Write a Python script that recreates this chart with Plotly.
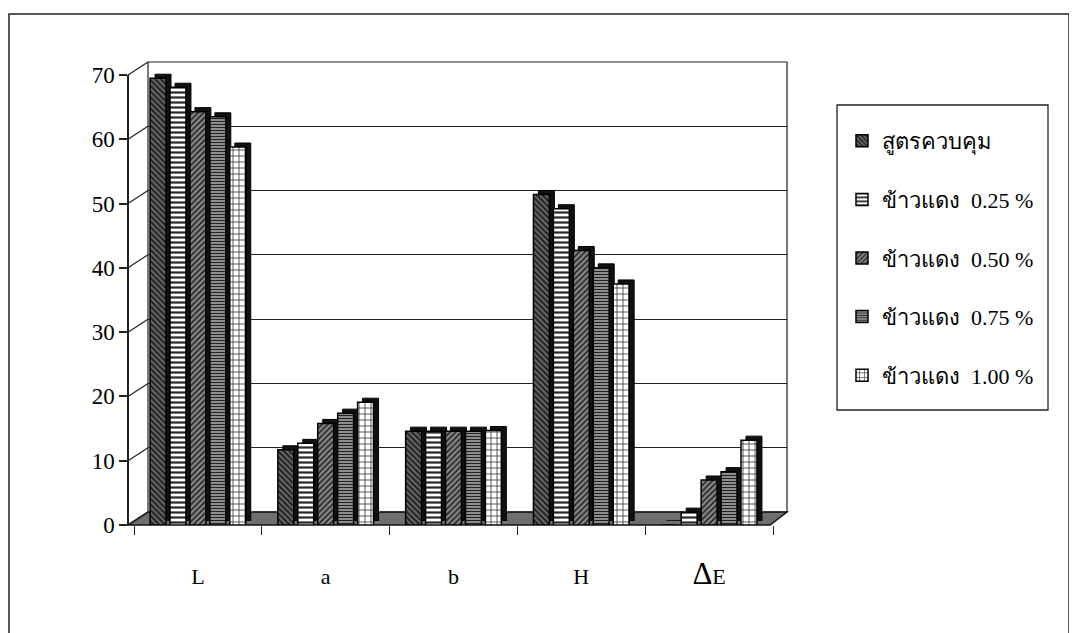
import plotly.graph_objects as go

categories = ["L", "a", "b", "H", "ΔE"]
category_labels = ["L", "a", "b", "H", "<span style='font-size:31px'>Δ</span>E"]
series_names = ["สูตรควบคุม", "ข้าวแดง\u00a0\u00a00.25 %", "ข้าวแดง\u00a0\u00a00.50 %",
                "ข้าวแดง\u00a0\u00a00.75 %", "ข้าวแดง\u00a0\u00a01.00 %"]
control = [69.5, 11.7, 14.6, 51.4, 0.0]
red_025 = [68.1, 12.7, 14.6, 49.2, 2.0]
red_050 = [64.3, 15.8, 14.6, 42.7, 7.0]
red_075 = [63.5, 17.4, 14.6, 40.0, 8.3]
red_100 = [58.8, 19.1, 14.7, 37.5, 13.2]
y_ticks = [0, 10, 20, 30, 40, 50, 60, 70]

series_values = [control, red_025, red_050, red_075, red_100]
patterns = [
    dict(shape="\\", bgcolor="#666666", fgcolor="#1a1a1a", size=4, solidity=0.45, fillmode="replace"),
    dict(shape="-", bgcolor="#ffffff", fgcolor="#2a2a2a", size=5, solidity=0.45, fillmode="replace"),
    dict(shape="/", bgcolor="#888888", fgcolor="#222222", size=4, solidity=0.4, fillmode="replace"),
    dict(shape="-", bgcolor="#b0b0b0", fgcolor="#222222", size=3, solidity=0.5, fillmode="replace"),
    dict(shape="+", bgcolor="#ffffff", fgcolor="#333333", size=6, solidity=0.25, fillmode="replace"),
]

FONT = "Liberation Serif, Times New Roman, serif"
OFF = 8  # page body margin in the browser
W, H = 1077 - OFF, 633 - OFF
# screen-pixel geometry of the reference
PX0, PX1, PY0, PY1 = 128, 787, 62, 525
L, T = PX0 - OFF, PY0 - OFF
R, B = W - (PX1 - OFF), H - (PY1 - OFF)
PW, PH = PX1 - PX0, PY1 - PY0


def px(xs):
    return (xs - PX0) / PW


def py(ys):
    return (PY1 - ys) / PH


dx_back, dy_back = px(148), py(512)
front_top = py(75)
sx, sy = 5 / PW, 4 / PH
fx0, fx1 = px(134), px(773)
floor_fx1 = px(770)

fig = go.Figure()

# invisible trace to anchor the back-wall subplot
fig.add_trace(go.Bar(x=categories, y=[0] * len(categories), xaxis="x", yaxis="y",
                     showlegend=False, hoverinfo="skip", marker_color="rgba(0,0,0,0)"))

# depth (shadow) bars
for vals in series_values:
    fig.add_trace(go.Bar(x=categories, y=vals, xaxis="x2", yaxis="y2", showlegend=False,
                         marker=dict(color="#111111", line=dict(color="#000", width=1)),
                         hoverinfo="skip"))

# front bars
for name, vals, pat in zip(series_names, series_values, patterns):
    fig.add_trace(go.Bar(x=categories, y=vals, name=name, xaxis="x3", yaxis="y3",
                         legendgroup=name,
                         marker=dict(pattern=pat, line=dict(color="#000", width=1.5))))

shapes = []
# floor
shapes.append(dict(type="path", xref="paper", yref="paper", layer="below",
                   path=f"M 0 0 L {floor_fx1} 0 L 1 {dy_back} L {dx_back} {dy_back} Z",
                   fillcolor="#6f6f6f", line=dict(color="#111", width=1.5)))
# back wall
shapes.append(dict(type="rect", xref="paper", yref="paper", layer="below",
                   x0=dx_back, x1=1, y0=dy_back, y1=1, line=dict(color="#222", width=1.2)))
# side-wall connectors
for v in y_ticks:
    yf = v / 70 * front_top
    yb = dy_back + v / 70 * front_top
    shapes.append(dict(type="line", xref="paper", yref="paper", layer="below",
                       x0=0, x1=dx_back, y0=yf, y1=yb, line=dict(color="#222", width=1.2)))
# legend box
shapes.append(dict(type="rect", xref="paper", yref="paper", layer="above",
                   x0=px(837), x1=px(1048), y0=py(410), y1=py(105),
                   line=dict(color="#222", width=1.3)))
# page border
shapes.append(dict(type="path", xref="paper", yref="paper", layer="above",
                   path=f"M {px(9)} {py(700)} L {px(9)} {py(14)} L {px(1069)} {py(14)} L {px(1069)} {py(700)}",
                   line=dict(color="#222", width=1.5)))

fig.update_layout(
    width=W, height=H,
    margin=dict(l=L, r=R, t=T, b=B, autoexpand=False),
    paper_bgcolor="white", plot_bgcolor="rgba(0,0,0,0)",
    barmode="group", bargap=0.22, bargroupgap=0.2,
    font=dict(family=FONT, color="#000", size=18),
    showlegend=True,
    legend=dict(x=px(842), y=py(120), xanchor="left", yanchor="top",
                borderwidth=0, bgcolor="rgba(0,0,0,0)",
                font=dict(size=22, family=FONT, color="#000"), tracegroupgap=27,
                traceorder="grouped"),
    shapes=shapes,
    xaxis=dict(domain=[dx_back, 1], anchor="y", showticklabels=False, showgrid=False,
               zeroline=False, showline=False, ticks=""),
    yaxis=dict(domain=[dy_back, 1], anchor="x", range=[0, 70], tickvals=y_ticks,
               showticklabels=False, showgrid=True, gridcolor="#222", gridwidth=1.2,
               zeroline=False, showline=False, ticks=""),
    xaxis2=dict(domain=[fx0 + sx, fx1 + sx], anchor="y2", visible=False),
    yaxis2=dict(domain=[sy, front_top + sy], anchor="x2", range=[0, 70], visible=False),
    xaxis3=dict(domain=[fx0, fx1], anchor="y3", tickvals=categories, ticktext=category_labels,
                showgrid=False, zeroline=False, showline=False, ticks="outside",
                tickson="boundaries", ticklen=9, tickcolor="#222", tickwidth=1.2,
                tickfont=dict(size=22, family=FONT, color="#000"), ticklabelstandoff=36),
    yaxis3=dict(domain=[0, front_top], anchor="free", position=0, range=[0, 70],
                tickvals=y_ticks, showgrid=False, zeroline=False, showline=True,
                linecolor="#222", linewidth=1.5, ticks="outside", ticklen=8,
                tickcolor="#222", tickwidth=1.5, tickfont=dict(size=23, family=FONT, color="#000")),
)

fig.write_html("out.html")
